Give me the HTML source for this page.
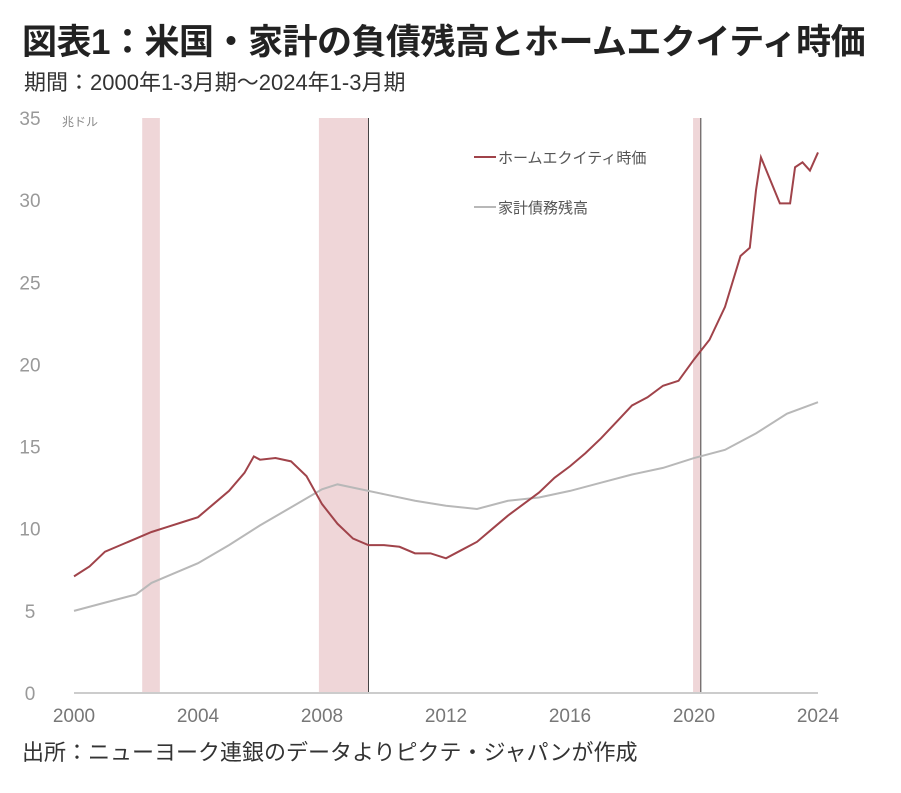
<!DOCTYPE html>
<html><head><meta charset="utf-8"><style>
body{margin:0;background:#fff;width:901px;height:793px;overflow:hidden;font-family:"Liberation Sans","Noto Sans CJK JP",sans-serif}
#title{position:absolute;left:22px;top:14px;font-size:35px;font-weight:bold;color:#222;letter-spacing:-0.5px}
#sub{position:absolute;left:24px;top:65px;font-size:22px;color:#333}
#src{position:absolute;left:22px;top:735px;font-size:22px;color:#333}
svg{position:absolute;left:0;top:0}
</style></head><body>
<div id="title">図表1：米国・家計の負債残高とホームエクイティ時価</div>
<div id="sub">期間：2000年1-3月期～2024年1-3月期</div>
<div id="src">出所：ニューヨーク連銀のデータよりピクテ・ジャパンが作成</div>
<svg id="chart" width="901" height="793"></svg>
<script>
const equityYears=[2000,2000.5,2001,2001.5,2002,2002.5,2003,2003.5,2004,2004.5,2005,2005.5,2005.8,2006,2006.5,2007,2007.5,2008,2008.5,2009,2009.5,2010,2010.5,2011,2011.5,2012,2012.5,2013,2013.5,2014,2014.5,2015,2015.5,2016,2016.5,2017,2017.5,2018,2018.5,2019,2019.5,2020,2020.5,2021,2021.5,2021.8,2022,2022.16,2022.77,2023.1,2023.26,2023.5,2023.74,2024];
const equityValues=[7.1,7.7,8.6,9.0,9.4,9.8,10.1,10.4,10.7,11.5,12.3,13.4,14.4,14.2,14.3,14.1,13.2,11.5,10.3,9.4,9.0,9.0,8.9,8.5,8.5,8.2,8.7,9.2,10.0,10.8,11.5,12.2,13.1,13.8,14.6,15.5,16.5,17.5,18.0,18.7,19.0,20.3,21.5,23.5,26.6,27.1,30.6,32.6,29.8,29.8,32.0,32.3,31.8,32.9];
const debtYears=[2000,2001,2002,2002.5,2003,2004,2005,2006,2007,2008,2008.5,2009,2010,2011,2012,2013,2014,2015,2016,2017,2018,2019,2020,2021,2022,2023,2024];
const debtValues=[5.0,5.5,6.0,6.7,7.1,7.9,9.0,10.2,11.3,12.4,12.7,12.5,12.1,11.7,11.4,11.2,11.7,11.9,12.3,12.8,13.3,13.7,14.3,14.8,15.8,17.0,17.7];
const recessions=[[2002.2,2002.77],[2007.9,2009.5],[2019.97,2020.22]];
const recessionEndLine=[false,true,true];
const yTicks=[0,5,10,15,20,25,30,35];
const xTicks=[2000,2004,2008,2012,2016,2020,2024];
const svg=document.getElementById('chart');const NS='http://www.w3.org/2000/svg';
const X=y=>74+(y-2000)*31, Y=v=>693-v*16.43;
function mk(t,a,p){const e=document.createElementNS(NS,t);for(const k in a)e.setAttribute(k,a[k]);(p||svg).appendChild(e);return e;}
recessions.forEach((r,i)=>{
const e=mk('rect',{x:X(r[0]),y:118,width:X(r[1])-X(r[0]),height:575,fill:'#efd6d8'});


if(recessionEndLine[i]){
const l=mk('line',{x1:X(r[1]),x2:X(r[1]),y1:118,y2:693,stroke:'#444','stroke-width':1});

}
});
const ax=mk('line',{x1:74,x2:818,y1:693,y2:693,stroke:'#ccc','stroke-width':2});


yTicks.forEach(v=>{const t=mk('text',{x:30,y:Y(v)+7,'font-size':19,fill:'#999','text-anchor':'middle'});t.textContent=v;

});
xTicks.forEach(v=>{const t=mk('text',{x:X(v),y:722,'font-size':19,fill:'#777','text-anchor':'middle'});t.textContent=v;

});
const u=mk('text',{x:62,y:126,'font-size':12,fill:'#888'});u.textContent='兆ドル';


function line(xs,vs,c,n){const p=mk('polyline',{points:xs.map((x,i)=>X(x)+','+Y(vs[i])).join(' '),fill:'none',stroke:c,'stroke-width':2});

}
line(debtYears,debtValues,'#b8b8b8','debt-line');
line(equityYears,equityValues,'#a0434a','equity-line');
[['#a0434a','ホームエクイティ時価',157,'legend-equity'],['#b8b8b8','家計債務残高',207,'legend-debt']].forEach(l=>{
const g=mk('g',{});


mk('line',{x1:474,x2:496,y1:l[2],y2:l[2],stroke:l[0],'stroke-width':2},g);
const t=mk('text',{x:498,y:l[2]+6,'font-size':15,fill:'#555'},g);t.textContent=l[1];});
</script>
</body></html>
